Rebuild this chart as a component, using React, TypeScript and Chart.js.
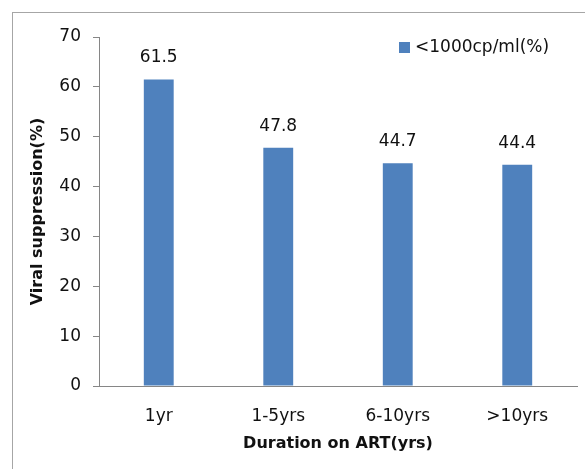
import React, { useEffect, useRef } from "react";
import { Chart, registerables } from "chart.js";

Chart.register(...registerables);

const categories = ["1yr", "1-5yrs", "6-10yrs", ">10yrs"];
const seriesLabel = "<1000cp/ml(%)";
const values = [61.5, 47.8, 44.7, 44.4];
const yTicksMin = 0;
const yTicksMax = 70;
const yTickStep = 10;
const yTitle = "Viral suppression(%)";
const xTitle = "Duration on ART(yrs)";

const FONT = "'DejaVu Sans', sans-serif";
const BAR = "#4F81BD";
const TEXT = "#111";
const AXIS = "#868686";

const valueLabels = {
  id: "valueLabels",
  afterDatasetsDraw(chart: any) {
    const { ctx } = chart;
    const meta = chart.getDatasetMeta(0);
    ctx.save();
    ctx.font = `17px ${FONT}`;
    ctx.fillStyle = TEXT;
    ctx.textAlign = "center";
    ctx.textBaseline = "bottom";
    meta.data.forEach((el: any, i: number) => {
      ctx.fillText(String(values[i]), el.x, el.y - 13);
    });
    ctx.restore();
  },
};

const customLegend = {
  id: "customLegend",
  afterDraw(chart: any) {
    const { ctx } = chart;
    ctx.save();
    ctx.fillStyle = BAR;
    ctx.fillRect(399, 42, 11, 11);
    ctx.font = `17px ${FONT}`;
    ctx.fillStyle = TEXT;
    ctx.textAlign = "left";
    ctx.textBaseline = "middle";
    ctx.fillText(chart.data.datasets[0].label, 415, 48);
    ctx.restore();
  },
};

export default function App() {
  const ref = useRef<HTMLCanvasElement>(null);
  useEffect(() => {
    const chart = new Chart(ref.current!, {
      type: "bar",
      data: {
        labels: categories,
        datasets: [
          {
            label: seriesLabel,
            data: values,
            backgroundColor: BAR,
            borderWidth: 0,
            categoryPercentage: 1,
            barPercentage: 0.25,
          },
        ],
      },
      options: {
        responsive: false,
        animation: false,
        layout: { padding: { left: 0, right: 8, top: 37, bottom: 0 } },
        plugins: {
          legend: { display: false },
          tooltip: { enabled: false },
        },
        scales: {
          x: {
            grid: { display: false, drawTicks: false },
            border: { display: true, color: AXIS, width: 1 },
            ticks: { color: TEXT, font: { family: FONT, size: 17 }, padding: 20 },
            title: {
              display: true,
              text: xTitle,
              color: TEXT,
              font: { family: FONT, size: 16, weight: "bold" },
              padding: { top: 0, bottom: 16 },
            },
            afterFit: (s: any) => {
              s.height = 83;
            },
          },
          y: {
            min: yTicksMin,
            max: yTicksMax,
            grid: { drawOnChartArea: false, drawTicks: true, tickLength: 6, color: AXIS },
            border: { display: true, color: AXIS, width: 1 },
            ticks: {
              stepSize: yTickStep,
              color: TEXT,
              font: { family: FONT, size: 17 },
              padding: 12,
            },
            title: {
              display: true,
              text: yTitle,
              color: TEXT,
              font: { family: FONT, size: 16, weight: "bold" },
              padding: { top: 28, bottom: 0 },
            },
            afterFit: (s: any) => {
              s.width = 99;
            },
          },
        },
      },
      plugins: [valueLabels, customLegend],
    });
    return () => chart.destroy();
  }, []);

  return (
    <div
      style={{
        position: "fixed",
        left: 0,
        top: 0,
        width: 585,
        height: 469,
        overflow: "hidden",
        background: "#fff",
      }}
    >
      <div
        style={{
          position: "absolute",
          left: 12,
          top: 12,
          width: 700,
          height: 600,
          border: "1px solid #a6a6a6",
        }}
      />
      <canvas ref={ref} width={585} height={469} style={{ position: "absolute", left: 0, top: 0 }} />
    </div>
  );
}
